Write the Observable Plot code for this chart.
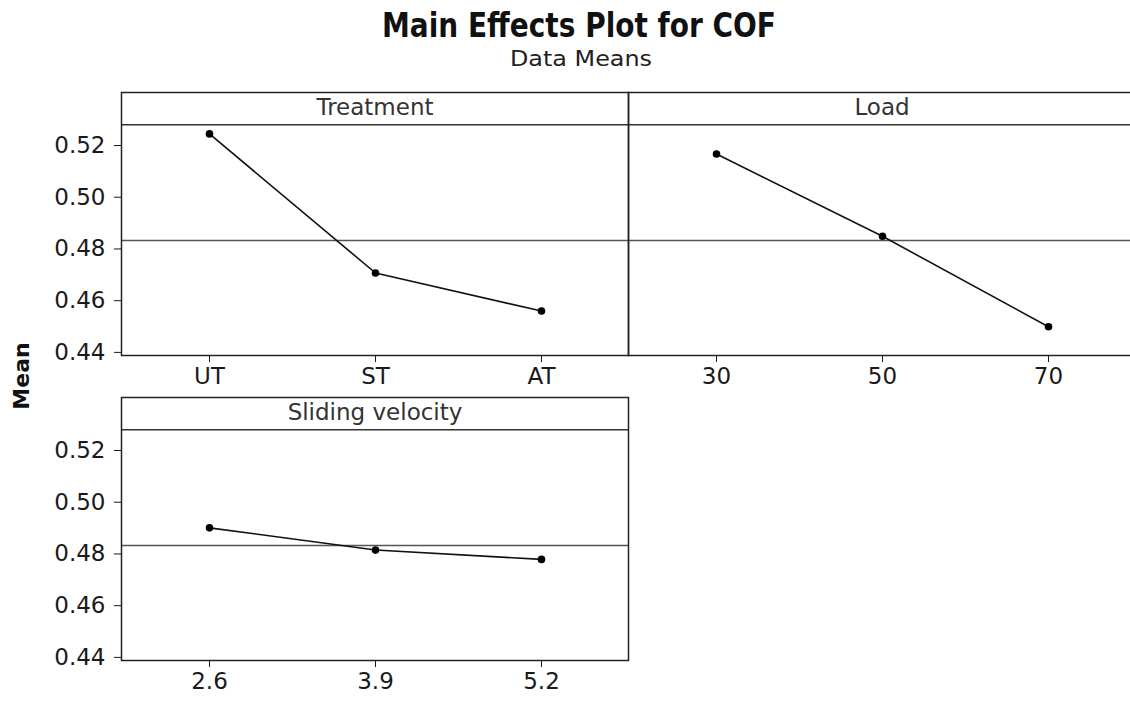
<!DOCTYPE html>
<html><head><meta charset="utf-8">
<script src="https://cdn.jsdelivr.net/npm/d3@7"></script>
<script src="https://cdn.jsdelivr.net/npm/@observablehq/plot@0.6"></script>
<style>
html,body{margin:0;padding:0;background:#fff;overflow:hidden;}
#chart{position:relative;width:1130px;height:702px;overflow:hidden;background:#fff;}
#chart > svg{position:absolute;}
</style></head><body><div id="chart"></div>
<script>
// ---- data ----
const treatmentLevels = ["UT", "ST", "AT"];
const treatmentMeans = [0.5245, 0.4707, 0.4560];
const loadLevels = ["30", "50", "70"];
const loadMeans = [0.5167, 0.4849, 0.4499];
const velocityLevels = ["2.6", "3.9", "5.2"];
const velocityMeans = [0.4901, 0.4815, 0.4779];
const grandMean = 0.4833;
const yTicks = [0.44, 0.46, 0.48, 0.50, 0.52];
const panelTitles = ["Treatment", "Load", "Sliding velocity"];

const yDomain = [0.4388, 0.5405];
const headerLine = 0.528;
const chart = document.getElementById("chart");

function panel({levels, means, title, width, marginLeft, marginRight, showY, left, top}) {
  const data = levels.map((l, i) => ({level: l, mean: means[i]}));
  const svg = Plot.plot({
    width, height: 305, marginTop: 2, marginBottom: 40, marginLeft, marginRight,
    style: {fontFamily: "'DejaVu Sans', sans-serif", fontSize: "23px", color: "#1a1a1a", background: "transparent", overflow: "visible"},
    x: {type: "point", domain: levels, padding: 0.52, label: null, tickSize: 7, tickPadding: 5},
    y: {domain: yDomain, ticks: yTicks, tickFormat: d3.format(".2f"), label: null, tickSize: 7, tickPadding: 9, axis: showY ? "left" : null},
    marks: [
      Plot.ruleY([grandMean], {stroke: "#555", strokeWidth: 1.5}),
      Plot.ruleY([headerLine], {stroke: "#333", strokeWidth: 1.5}),
      Plot.line(data, {x: "level", y: "mean", stroke: "#111", strokeWidth: 1.6}),
      Plot.dot(data, {x: "level", y: "mean", r: 3.8, fill: "#000"}),
      Plot.text([title], {text: d => d, frameAnchor: "top", lineAnchor: "middle", dy: 15, fontSize: 23, fill: "#333"}),
      Plot.frame({stroke: "#222", strokeWidth: 1.5})
    ]
  });
  svg.style.left = left + "px";
  svg.style.top = top + "px";
  chart.appendChild(svg);
}

panel({levels: treatmentLevels, means: treatmentMeans, title: panelTitles[0], width: 629, marginLeft: 121, marginRight: 1, showY: true, left: 0, top: 90});
panel({levels: loadLevels, means: loadMeans, title: panelTitles[1], width: 509, marginLeft: 1, marginRight: 1, showY: false, left: 627, top: 90});
panel({levels: velocityLevels, means: velocityMeans, title: panelTitles[2], width: 629, marginLeft: 121, marginRight: 1, showY: true, left: 0, top: 395});

// titles
const ov = d3.select(chart).append("svg")
  .attr("width", 1130).attr("height", 702)
  .style("left", "0px").style("top", "0px").style("pointer-events", "none");
ov.append("text")
  .attr("x", 579).attr("y", 37).attr("text-anchor", "middle")
  .attr("font-family", "'DejaVu Sans Condensed', 'DejaVu Sans', sans-serif")
  .attr("font-weight", "bold").attr("font-size", 33)
  .attr("textLength", 394).attr("lengthAdjust", "spacingAndGlyphs")
  .attr("fill", "#111")
  .text("Main Effects Plot for COF");
ov.append("text")
  .attr("x", 581).attr("y", 66).attr("text-anchor", "middle")
  .attr("font-family", "'DejaVu Sans', sans-serif").attr("font-size", 22)
  .attr("textLength", 142).attr("lengthAdjust", "spacingAndGlyphs")
  .attr("fill", "#222")
  .text("Data Means");
ov.append("text")
  .attr("transform", "translate(21,376) rotate(-90)")
  .attr("text-anchor", "middle").attr("dominant-baseline", "central")
  .attr("font-family", "'DejaVu Sans', sans-serif").attr("font-weight", "bold").attr("font-size", 22)
  .attr("fill", "#111")
  .text("Mean");
</script></body></html>
